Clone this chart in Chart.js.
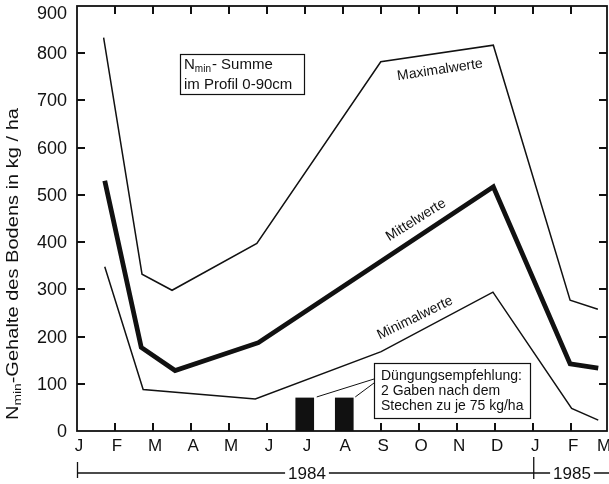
<!DOCTYPE html>
<html><head><meta charset="utf-8">
<script src="https://cdn.jsdelivr.net/npm/chart.js@4/dist/chart.umd.min.js"></script>
<style>html,body{margin:0;padding:0;background:#fff}#wrap{width:609px;height:484px}</style>
</head><body><div id="wrap"><canvas id="c" width="609" height="484"></canvas></div>
<script>
// Month tick labels (Jan 1984 .. Mar 1985), positions are month index 0..14
const monthLabels = ['J','F','M','A','M','J','J','A','S','O','N','D','J','F','M'];
const yTickValues = [0,100,200,300,400,500,600,700,800,900];
// Series (x = months since 1 Jan 1984, y = kg/ha)
const maxX  = [0.70, 1.71, 2.50, 4.73, 7.99, 10.95, 12.97, 13.70];
const maxY  = [833, 332, 298, 397, 782, 817, 277, 258];
const meanX = [0.73, 1.69, 2.58, 4.77, 10.95, 12.97, 13.71];
const meanY = [530, 177, 128, 187, 517, 142, 133];
const minX  = [0.73, 1.74, 4.69, 8.00, 10.94, 13.01, 13.71];
const minY  = [348, 88, 68, 168, 294, 48, 23];
// Fertiliser recommendation bars (July, August)
const barX = [5.99, 7.03];
const barY = [70, 70];
const years = ['1984', '1985'];

const pts = (xs, ys) => xs.map((x, i) => ({x, y: ys[i]}));
const FONT = '"Liberation Sans", Arial, sans-serif';
const INK = '#111';

const deco = {
  id: 'deco',
  afterDraw(chart) {
    const ctx = chart.ctx, a = chart.chartArea;
    const xs = chart.scales.x, ys = chart.scales.y;
    ctx.save();
    ctx.strokeStyle = INK; ctx.fillStyle = INK;
    // frame
    ctx.lineWidth = 1.8;
    ctx.strokeRect(a.left, a.top, a.right - a.left, a.bottom - a.top);
    // ticks (inward)
    const T = 8, TW = 2;
    for (let k = 1; k < yTickValues.length - 1; k++) {
      const py = Math.round(ys.getPixelForValue(yTickValues[k]));
      ctx.fillRect(Math.round(a.left), py - 1, T, TW);
      ctx.fillRect(Math.round(a.right) - T, py - 1, T, TW);
    }
    for (let i = 1; i < monthLabels.length; i++) {
      const px = Math.round(xs.getPixelForValue(i));
      if (px >= a.right - 1) continue;
      ctx.fillRect(px - 1, Math.round(a.bottom) - T, TW, T);
      ctx.fillRect(px - 1, Math.round(a.top), TW, T);
    }
    // y labels
    ctx.font = '18px ' + FONT;
    ctx.textAlign = 'right'; ctx.textBaseline = 'middle';
    yTickValues.forEach(v => {
      let py = ys.getPixelForValue(v);
      if (py < 13) py = 13;
      ctx.fillText(String(v), a.left - 10, py + 1);
    });
    // x labels
    ctx.font = '17px ' + FONT;
    ctx.textAlign = 'center';
    monthLabels.forEach((m, i) => {
      let px = xs.getPixelForValue(i);
      if (px > 602) px = 602;
      ctx.fillText(m, px + 2, a.bottom + 15);
    });
    // year line
    const x0 = xs.getPixelForValue(0), x12 = xs.getPixelForValue(12);
    const yl = 473;
    ctx.lineWidth = 1.3;
    ctx.beginPath();
    ctx.moveTo(x0 + 0.5, 462); ctx.lineTo(x0 + 0.5, 478);
    ctx.moveTo(x12 + 0.5, 457); ctx.lineTo(x12 + 0.5, 479);
    ctx.stroke();
    ctx.font = '17px ' + FONT;
    const c84 = 307, c85 = 572;
    const w84 = ctx.measureText(years[0]).width, w85 = ctx.measureText(years[1]).width;
    ctx.fillText(years[0], c84, yl + 1);
    ctx.fillText(years[1], c85, yl + 1);
    ctx.beginPath();
    ctx.moveTo(x0, yl); ctx.lineTo(c84 - w84 / 2 - 3, yl);
    ctx.moveTo(c84 + w84 / 2 + 3, yl); ctx.lineTo(x12, yl);
    ctx.moveTo(x12, yl); ctx.lineTo(c85 - w85 / 2 - 3, yl);
    ctx.moveTo(c85 + w85 / 2 + 3, yl); ctx.lineTo(609, yl);
    ctx.stroke();

    // y axis title, rotated, with subscript, stretched to the span of the original
    ctx.save();
    ctx.translate(14, 264);
    ctx.rotate(-Math.PI / 2);
    ctx.textAlign = 'left'; ctx.textBaseline = 'middle';
    const big = '16px ' + FONT, small = '11px ' + FONT;
    const parts = [['N', big, 0], ['min', small, 4], ['-Gehalte des Bodens in kg / ha', big, 0]];
    let tot = 0;
    parts.forEach(p => { ctx.font = p[1]; tot += ctx.measureText(p[0]).width; });
    const sx = 312 / tot;
    ctx.scale(sx, 1);
    let cx = -tot / 2;
    parts.forEach(p => { ctx.font = p[1]; ctx.fillText(p[0], cx, p[2]); cx += ctx.measureText(p[0]).width; });
    ctx.restore();

    // box 1
    ctx.lineWidth = 1.2;
    ctx.strokeRect(180.5, 54.5, 124, 40);
    ctx.textAlign = 'left'; ctx.textBaseline = 'middle';
    ctx.font = '15px ' + FONT;
    let bx = 184;
    ctx.fillText('N', bx, 65); bx += ctx.measureText('N').width;
    ctx.font = '10px ' + FONT; ctx.fillText('min', bx, 69); bx += ctx.measureText('min').width;
    ctx.font = '15px ' + FONT; ctx.fillText('- Summe', bx + 1, 65);
    ctx.fillText('im Profil 0-90cm', 184, 85);

    // box 2
    ctx.fillStyle = '#fff';
    ctx.fillRect(374, 363, 156, 56);
    ctx.fillStyle = INK;
    ctx.strokeRect(374.5, 363.5, 156, 55);
    ctx.font = '14px ' + FONT;
    ctx.fillText('Düngungsempfehlung:', 381, 376);
    ctx.fillText('2 Gaben nach dem', 381, 391);
    ctx.fillText('Stechen zu je 75 kg/ha', 381, 406);
    // leader lines from bars to box
    const b1 = xs.getPixelForValue(barX[0]) + 12, b2 = xs.getPixelForValue(barX[1]) + 11;
    const bt = ys.getPixelForValue(barY[0]);
    ctx.lineWidth = 1;
    ctx.beginPath();
    ctx.moveTo(b1, bt - 1); ctx.lineTo(374, 379);
    ctx.moveTo(b2, bt - 1); ctx.lineTo(374, 383);
    ctx.stroke();

    // line labels
    const lab = (t, x, y, ang) => {
      ctx.save(); ctx.translate(x, y); ctx.rotate(ang * Math.PI / 180);
      ctx.textAlign = 'center'; ctx.textBaseline = 'middle';
      ctx.font = '14px ' + FONT; ctx.fillText(t, 0, 0); ctx.restore();
    };
    lab('Maximalwerte', 440, 70, -8.5);
    lab('Mittelwerte', 416, 220, -32);
    lab('Minimalwerte', 415, 318, -26);
    ctx.restore();
  }
};

new Chart(document.getElementById('c'), {
  type: 'line',
  data: {
    datasets: [
      { label: 'Maximalwerte', data: pts(maxX, maxY), borderColor: INK, borderWidth: 1.5, pointRadius: 0, fill: false, tension: 0 },
      { label: 'Mittelwerte', data: pts(meanX, meanY), borderColor: INK, borderWidth: 4.8, pointRadius: 0, fill: false, tension: 0, borderJoinStyle: 'miter' },
      { label: 'Minimalwerte', data: pts(minX, minY), borderColor: INK, borderWidth: 1.5, pointRadius: 0, fill: false, tension: 0 },
      { type: 'bar', label: 'Düngung', data: pts(barX, barY), backgroundColor: INK, borderWidth: 0, barThickness: 18, grouped: false }
    ]
  },
  options: {
    responsive: false, animation: false, devicePixelRatio: 1,
    layout: { padding: { left: 77, top: 6, right: 2, bottom: 53 } },
    plugins: { legend: { display: false }, tooltip: { enabled: false } },
    scales: {
      x: { type: 'linear', min: 0, max: 13.94, offset: false, display: false },
      y: { type: 'linear', min: 0, max: 900, display: false }
    }
  },
  plugins: [deco]
});
</script></body></html>
